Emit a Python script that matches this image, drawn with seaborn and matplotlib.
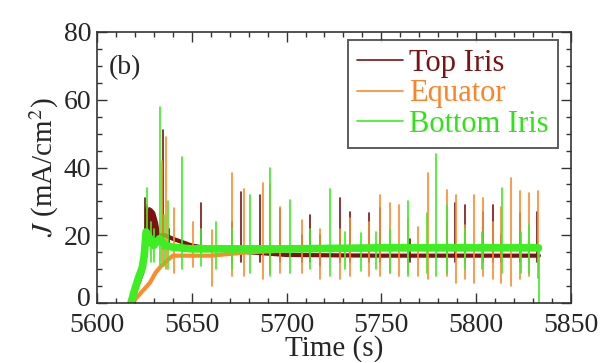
import numpy as np
import pandas as pd
import seaborn as sns
import matplotlib.pyplot as plt
import matplotlib.transforms as mtransforms
from matplotlib.lines import Line2D


# -----------------------------
# DATA
# -----------------------------
# slow baseline of each probe: (time, J)
top_base_t = [5618, 5620, 5622, 5624, 5625, 5632, 5636, 5640, 5645, 5650, 5660, 5680, 5700, 5750, 5800, 5833]
top_base_j = [0, 3, 6, 9, 18, 20, 20, 19, 18, 17, 16, 15, 14.2, 14, 14, 14]

# dense oscillation of the top iris right after switch-on (filled band)
top_block_t = [5625.0, 5626.0, 5627.5, 5629.0, 5630.5, 5632.0, 5633.0]
top_block_hi = [29, 27, 28.5, 28, 27, 24, 21]
top_block_lo = [19, 18, 17, 18, 17, 18, 19]

eq_base_t = [5618, 5620, 5624, 5628, 5631, 5634, 5637, 5640, 5660, 5680, 5700, 5750, 5800, 5832.5]
eq_base_j = [0, 1, 3.5, 6, 9, 11, 12.5, 14, 14, 15, 15.5, 16, 16, 16]

bot_base_t = [5618, 5620, 5622, 5624, 5625, 5626, 5628, 5630, 5633, 5636, 5640, 5650, 5700, 5750, 5800, 5832.8]
bot_base_j = [0, 4, 7.5, 10.5, 14, 21, 19, 17, 19, 17, 16.5, 16, 16, 16.3, 16.3, 16.3]

# spikes: time, top of the spike, bottom of the dip
top_spike_t = [5625.3, 5626.5, 5627.7, 5628.9, 5630.1, 5631.3,
               5635.0, 5638.0, 5655.0, 5671.0, 5675.8, 5686.0, 5696.5, 5708.0, 5712.3, 5717.6,
               5728.2, 5733.4, 5743.6, 5749.3, 5765.0, 5784.5, 5789.0, 5794.0, 5803.5, 5808.7,
               5813.0, 5823.1, 5832.2]
top_spike_hi = [31, 29, 28, 27, 26, 24,
                51, 22, 29.5, 24, 32.8, 31.9, 27.9, 20, 26, 20,
                30.9, 26.9, 26.5, 28, 19, 24, 29.4, 29, 26.9, 29,
                20, 26.5, 27]
top_spike_lo = [18, 17, 17, 18, 18, 18,
                16, 17, 15, 12, 12, 12, 12, 12, 12, 11,
                12, 12, 12, 12, 12, 12, 12, 12, 12, 12,
                12, 12, 12]

eq_spike_t = [5634.5, 5636.7, 5640.6, 5650.8, 5660.7, 5671.0, 5677.5, 5687.5, 5691.5, 5696.5,
              5708.0, 5717.6, 5728.0, 5733.6, 5743.6, 5749.3, 5754.5, 5759.5, 5764.0, 5769.5,
              5774.8, 5784.6, 5789.3, 5794.0, 5798.8, 5803.6, 5808.7, 5813.2, 5818.5, 5823.1,
              5828.0, 5832.6]
eq_spike_hi = [42, 49, 28, 24, 21.5, 38.3, 33.7, 35.5, 35, 28.5,
               24.5, 22, 22, 25, 24, 31.9, 29.4, 29, 25, 22.5,
               38.3, 33.5, 32, 23, 32, 31, 24, 28.5, 37, 33,
               32.4, 33]
eq_spike_lo = [12, 10, 9, 10.6, 5, 8, 8, 7, 9, 9,
               9, 7, 7, 8, 8, 8, 9, 8, 9, 8,
               7, 8, 6, 7, 6, 8, 7, 6, 5, 7,
               8, 7.5]

bot_spike_t = [5626.7, 5628.5, 5630.0, 5633.2, 5635.5, 5637.4, 5645.0, 5655.0, 5663.0, 5671.5,
               5681.0, 5691.2, 5702.0, 5712.3, 5723.0, 5731.0, 5739.5, 5747.0, 5754.3, 5764.0,
               5774.0, 5778.8, 5784.4, 5794.0, 5803.0, 5813.4, 5823.5, 5828.0, 5833.0]
bot_spike_hi = [34, 24, 22, 58, 26, 30, 43, 22, 24, 22,
                32, 40, 30.4, 22, 33.6, 21, 20.6, 21, 22, 30,
                26.5, 44, 29, 22, 21, 34, 21, 23, 16.3]
bot_spike_lo = [14, 12, 12, 11, 11, 10, 10, 11, 10, 10,
                9, 8, 9, 10, 8, 10, 9.5, 10, 9, 8,
                9, 8, 9, 10, 10, 9, 9, 9, 0]

labels = ["Top Iris", "Equator", "Bottom Iris"]
colors = ["#7d1212", "#ff8a2c", "#3cee22"]
text_colors = ["#7a1414", "#ff8226", "#2ee414"]


# -----------------------------
# HELPERS
# -----------------------------
def spike_frame(ts, his, los):
    rows = []
    for i, (t, hi, lo) in enumerate(zip(ts, his, los)):
        rows.append((i, t, lo))
        rows.append((i, t, hi))
    return pd.DataFrame(rows, columns=["spike", "t", "J"])


# -----------------------------
# PLOT
# -----------------------------
sns.set_style("ticks")
plt.rcParams["font.family"] = ["Liberation Serif", "DejaVu Serif"]
plt.rcParams["mathtext.fontset"] = "stix"

fig = plt.figure(figsize=(6.05, 3.63), dpi=100)
ax = fig.add_axes([0.160, 0.165, 0.784, 0.747])

series = [
    (top_base_t, top_base_j, top_spike_t, top_spike_hi, top_spike_lo, 3.0),
    (eq_base_t, eq_base_j, eq_spike_t, eq_spike_hi, eq_spike_lo, 3.0),
    (bot_base_t, bot_base_j, bot_spike_t, bot_spike_hi, bot_spike_lo, 5.5),
]

for k, ((bt, bj, st, shi, slo, band), c) in enumerate(zip(series, colors)):
    sns.lineplot(x=bt, y=bj, color=c, lw=band, sort=False, estimator=None,
                 ax=ax, legend=False)
    if k == 0:
        ax.fill_between(top_block_t, top_block_lo, top_block_hi, color=c, lw=0)
    sns.lineplot(data=spike_frame(st, shi, slo), x="t", y="J", units="spike",
                 estimator=None, color=c, lw=1.2, ax=ax, legend=False)

ax.set_xlim(5600, 5850)
ax.set_ylim(0, 80)
ax.set_xticks(np.arange(5600, 5851, 50))
ax.set_xticks(np.arange(5600, 5851, 10), minor=True)
ax.set_yticks(np.arange(0, 81, 20))
ax.set_yticks(np.arange(0, 81, 5), minor=True)
ax.tick_params(which="both", direction="in", top=True, right=True,
               labelsize=20, color="#333333", width=1.0, pad=4)
ax.tick_params(axis="x", which="both", pad=7)
ax.tick_params(which="major", length=7)
ax.tick_params(which="minor", length=3.5)
for s in ax.spines.values():
    s.set_color("#333333")
    s.set_linewidth(1.2)

# the "0" sits a little above its tick so it clears the "5600" below
lift = mtransforms.ScaledTranslation(0, 5 / 72, fig.dpi_scale_trans)
zero_label = ax.get_yticklabels()[0]
zero_label.set_transform(zero_label.get_transform() + lift)

ax.set_xlabel("Time (s)", fontsize=21, labelpad=-2)
ax.set_ylabel(r"$J$ (mA/cm$^2$)", fontsize=21, labelpad=2)

ax.text(0.025, 0.87, "(b)", transform=ax.transAxes, fontsize=20, va="center")

handles = [Line2D([], [], color=c, lw=1.2) for c in colors]
leg = ax.legend(handles, labels, loc="upper right", bbox_to_anchor=(0.972, 0.972),
                borderaxespad=0, fontsize=22, frameon=True, fancybox=False,
                handlelength=1.5, handletextpad=0.2, labelspacing=0.05,
                borderpad=0.3)
leg.get_frame().set_edgecolor("#333333")
leg.get_frame().set_linewidth(1.4)
for txt, tc in zip(leg.get_texts(), text_colors):
    txt.set_color(tc)

fig.savefig("out.png", dpi=100)
